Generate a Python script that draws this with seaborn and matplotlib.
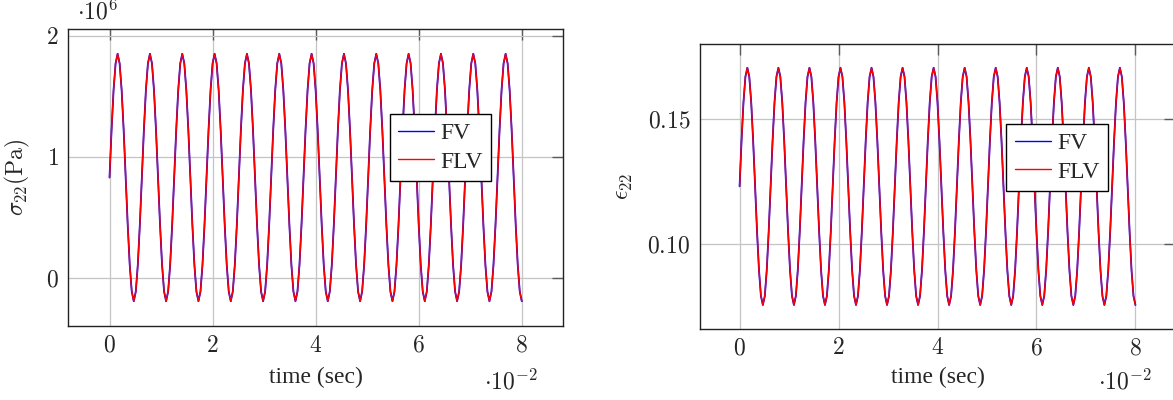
import numpy as np
import matplotlib
matplotlib.use("Agg")
import matplotlib.pyplot as plt
import seaborn as sns
from matplotlib.ticker import FixedLocator, FuncFormatter

# Sampling instants of the solver output (s)
time_sec = np.linspace(0.0, 0.08, 205)

# Normal stress sigma_22, in units of 1e6 Pa
sigma22_fv = [
    0.83, 1.22, 1.55, 1.77, 1.85, 1.77, 1.55, 1.22, 0.83, 0.44, 0.11, -0.11, -0.19, -0.11, 0.11, 0.44,
    0.83, 1.22, 1.55, 1.77, 1.85, 1.77, 1.55, 1.22, 0.83, 0.44, 0.11, -0.11, -0.19, -0.11, 0.11, 0.44,
    0.83, 1.22, 1.55, 1.77, 1.85, 1.77, 1.55, 1.22, 0.83, 0.44, 0.11, -0.11, -0.19, -0.11, 0.11, 0.44,
    0.83, 1.22, 1.55, 1.77, 1.85, 1.77, 1.55, 1.22, 0.83, 0.44, 0.11, -0.11, -0.19, -0.11, 0.11, 0.44,
    0.83, 1.22, 1.55, 1.77, 1.85, 1.77, 1.55, 1.22, 0.83, 0.44, 0.11, -0.11, -0.19, -0.11, 0.11, 0.44,
    0.83, 1.22, 1.55, 1.77, 1.85, 1.77, 1.55, 1.22, 0.83, 0.44, 0.11, -0.11, -0.19, -0.11, 0.11, 0.44,
    0.83, 1.22, 1.55, 1.77, 1.85, 1.77, 1.55, 1.22, 0.83, 0.44, 0.11, -0.11, -0.19, -0.11, 0.11, 0.44,
    0.83, 1.22, 1.55, 1.77, 1.85, 1.77, 1.55, 1.22, 0.83, 0.44, 0.11, -0.11, -0.19, -0.11, 0.11, 0.44,
    0.83, 1.22, 1.55, 1.77, 1.85, 1.77, 1.55, 1.22, 0.83, 0.44, 0.11, -0.11, -0.19, -0.11, 0.11, 0.44,
    0.83, 1.22, 1.55, 1.77, 1.85, 1.77, 1.55, 1.22, 0.83, 0.44, 0.11, -0.11, -0.19, -0.11, 0.11, 0.44,
    0.83, 1.22, 1.55, 1.77, 1.85, 1.77, 1.55, 1.22, 0.83, 0.44, 0.11, -0.11, -0.19, -0.11, 0.11, 0.44,
    0.83, 1.22, 1.55, 1.77, 1.85, 1.77, 1.55, 1.22, 0.83, 0.44, 0.11, -0.11, -0.19, -0.11, 0.11, 0.44,
    0.83, 1.22, 1.55, 1.77, 1.85, 1.77, 1.55, 1.22, 0.83, 0.44, 0.11, -0.11, -0.19,
]
sigma22_flv = [
    0.83, 1.22, 1.55, 1.77, 1.85, 1.77, 1.55, 1.22, 0.83, 0.44, 0.11, -0.11, -0.19, -0.11, 0.11, 0.44,
    0.83, 1.22, 1.55, 1.77, 1.85, 1.77, 1.55, 1.22, 0.83, 0.44, 0.11, -0.11, -0.19, -0.11, 0.11, 0.44,
    0.83, 1.22, 1.55, 1.77, 1.85, 1.77, 1.55, 1.22, 0.83, 0.44, 0.11, -0.11, -0.19, -0.11, 0.11, 0.44,
    0.83, 1.22, 1.55, 1.77, 1.85, 1.77, 1.55, 1.22, 0.83, 0.44, 0.11, -0.11, -0.19, -0.11, 0.11, 0.44,
    0.83, 1.22, 1.55, 1.77, 1.85, 1.77, 1.55, 1.22, 0.83, 0.44, 0.11, -0.11, -0.19, -0.11, 0.11, 0.44,
    0.83, 1.22, 1.55, 1.77, 1.85, 1.77, 1.55, 1.22, 0.83, 0.44, 0.11, -0.11, -0.19, -0.11, 0.11, 0.44,
    0.83, 1.22, 1.55, 1.77, 1.85, 1.77, 1.55, 1.22, 0.83, 0.44, 0.11, -0.11, -0.19, -0.11, 0.11, 0.44,
    0.83, 1.22, 1.55, 1.77, 1.85, 1.77, 1.55, 1.22, 0.83, 0.44, 0.11, -0.11, -0.19, -0.11, 0.11, 0.44,
    0.83, 1.22, 1.55, 1.77, 1.85, 1.77, 1.55, 1.22, 0.83, 0.44, 0.11, -0.11, -0.19, -0.11, 0.11, 0.44,
    0.83, 1.22, 1.55, 1.77, 1.85, 1.77, 1.55, 1.22, 0.83, 0.44, 0.11, -0.11, -0.19, -0.11, 0.11, 0.44,
    0.83, 1.22, 1.55, 1.77, 1.85, 1.77, 1.55, 1.22, 0.83, 0.44, 0.11, -0.11, -0.19, -0.11, 0.11, 0.44,
    0.83, 1.22, 1.55, 1.77, 1.85, 1.77, 1.55, 1.22, 0.83, 0.44, 0.11, -0.11, -0.19, -0.11, 0.11, 0.44,
    0.83, 1.22, 1.55, 1.77, 1.85, 1.77, 1.55, 1.22, 0.83, 0.44, 0.11, -0.11, -0.19,
]

# Normal strain epsilon_22 (dimensionless)
eps22_fv = [
    0.1232, 0.1413, 0.1567, 0.1670, 0.1706, 0.1670, 0.1567, 0.1413, 0.1232, 0.1051, 0.0897, 0.0794, 0.0758, 0.0794, 0.0897, 0.1051,
    0.1232, 0.1413, 0.1567, 0.1670, 0.1706, 0.1670, 0.1567, 0.1413, 0.1232, 0.1051, 0.0897, 0.0794, 0.0758, 0.0794, 0.0897, 0.1051,
    0.1232, 0.1413, 0.1567, 0.1670, 0.1706, 0.1670, 0.1567, 0.1413, 0.1232, 0.1051, 0.0897, 0.0794, 0.0758, 0.0794, 0.0897, 0.1051,
    0.1232, 0.1413, 0.1567, 0.1670, 0.1706, 0.1670, 0.1567, 0.1413, 0.1232, 0.1051, 0.0897, 0.0794, 0.0758, 0.0794, 0.0897, 0.1051,
    0.1232, 0.1413, 0.1567, 0.1670, 0.1706, 0.1670, 0.1567, 0.1413, 0.1232, 0.1051, 0.0897, 0.0794, 0.0758, 0.0794, 0.0897, 0.1051,
    0.1232, 0.1413, 0.1567, 0.1670, 0.1706, 0.1670, 0.1567, 0.1413, 0.1232, 0.1051, 0.0897, 0.0794, 0.0758, 0.0794, 0.0897, 0.1051,
    0.1232, 0.1413, 0.1567, 0.1670, 0.1706, 0.1670, 0.1567, 0.1413, 0.1232, 0.1051, 0.0897, 0.0794, 0.0758, 0.0794, 0.0897, 0.1051,
    0.1232, 0.1413, 0.1567, 0.1670, 0.1706, 0.1670, 0.1567, 0.1413, 0.1232, 0.1051, 0.0897, 0.0794, 0.0758, 0.0794, 0.0897, 0.1051,
    0.1232, 0.1413, 0.1567, 0.1670, 0.1706, 0.1670, 0.1567, 0.1413, 0.1232, 0.1051, 0.0897, 0.0794, 0.0758, 0.0794, 0.0897, 0.1051,
    0.1232, 0.1413, 0.1567, 0.1670, 0.1706, 0.1670, 0.1567, 0.1413, 0.1232, 0.1051, 0.0897, 0.0794, 0.0758, 0.0794, 0.0897, 0.1051,
    0.1232, 0.1413, 0.1567, 0.1670, 0.1706, 0.1670, 0.1567, 0.1413, 0.1232, 0.1051, 0.0897, 0.0794, 0.0758, 0.0794, 0.0897, 0.1051,
    0.1232, 0.1413, 0.1567, 0.1670, 0.1706, 0.1670, 0.1567, 0.1413, 0.1232, 0.1051, 0.0897, 0.0794, 0.0758, 0.0794, 0.0897, 0.1051,
    0.1232, 0.1413, 0.1567, 0.1670, 0.1706, 0.1670, 0.1567, 0.1413, 0.1232, 0.1051, 0.0897, 0.0794, 0.0758,
]
eps22_flv = [
    0.1232, 0.1413, 0.1567, 0.1670, 0.1706, 0.1670, 0.1567, 0.1413, 0.1232, 0.1051, 0.0897, 0.0794, 0.0758, 0.0794, 0.0897, 0.1051,
    0.1232, 0.1413, 0.1567, 0.1670, 0.1706, 0.1670, 0.1567, 0.1413, 0.1232, 0.1051, 0.0897, 0.0794, 0.0758, 0.0794, 0.0897, 0.1051,
    0.1232, 0.1413, 0.1567, 0.1670, 0.1706, 0.1670, 0.1567, 0.1413, 0.1232, 0.1051, 0.0897, 0.0794, 0.0758, 0.0794, 0.0897, 0.1051,
    0.1232, 0.1413, 0.1567, 0.1670, 0.1706, 0.1670, 0.1567, 0.1413, 0.1232, 0.1051, 0.0897, 0.0794, 0.0758, 0.0794, 0.0897, 0.1051,
    0.1232, 0.1413, 0.1567, 0.1670, 0.1706, 0.1670, 0.1567, 0.1413, 0.1232, 0.1051, 0.0897, 0.0794, 0.0758, 0.0794, 0.0897, 0.1051,
    0.1232, 0.1413, 0.1567, 0.1670, 0.1706, 0.1670, 0.1567, 0.1413, 0.1232, 0.1051, 0.0897, 0.0794, 0.0758, 0.0794, 0.0897, 0.1051,
    0.1232, 0.1413, 0.1567, 0.1670, 0.1706, 0.1670, 0.1567, 0.1413, 0.1232, 0.1051, 0.0897, 0.0794, 0.0758, 0.0794, 0.0897, 0.1051,
    0.1232, 0.1413, 0.1567, 0.1670, 0.1706, 0.1670, 0.1567, 0.1413, 0.1232, 0.1051, 0.0897, 0.0794, 0.0758, 0.0794, 0.0897, 0.1051,
    0.1232, 0.1413, 0.1567, 0.1670, 0.1706, 0.1670, 0.1567, 0.1413, 0.1232, 0.1051, 0.0897, 0.0794, 0.0758, 0.0794, 0.0897, 0.1051,
    0.1232, 0.1413, 0.1567, 0.1670, 0.1706, 0.1670, 0.1567, 0.1413, 0.1232, 0.1051, 0.0897, 0.0794, 0.0758, 0.0794, 0.0897, 0.1051,
    0.1232, 0.1413, 0.1567, 0.1670, 0.1706, 0.1670, 0.1567, 0.1413, 0.1232, 0.1051, 0.0897, 0.0794, 0.0758, 0.0794, 0.0897, 0.1051,
    0.1232, 0.1413, 0.1567, 0.1670, 0.1706, 0.1670, 0.1567, 0.1413, 0.1232, 0.1051, 0.0897, 0.0794, 0.0758, 0.0794, 0.0897, 0.1051,
    0.1232, 0.1413, 0.1567, 0.1670, 0.1706, 0.1670, 0.1567, 0.1413, 0.1232, 0.1051, 0.0897, 0.0794, 0.0758,
]

series_labels = ["FV", "FLV"]
series_colors = ["#0000ff", "#ff0000"]
x_ticks = [0.0, 0.02, 0.04, 0.06, 0.08]
sigma_ticks = [0.0, 1.0, 2.0]
eps_ticks = [0.10, 0.15]

sns.set_style("white")
plt.rcParams.update({
    "font.family": ["Liberation Serif", "DejaVu Serif"],
    "mathtext.fontset": "cm",
    "font.size": 17,
    "axes.linewidth": 1.0,
})

W, H = 1173, 400
fig = plt.figure(figsize=(W / 100, H / 100), dpi=100)
ax1 = fig.add_axes([68.3 / W, 1 - 326 / H, (563 - 68.3) / W, (326 - 29) / H])
ax2 = fig.add_axes([700 / W, 1 - 328.7 / H, (1175 - 700) / W, (328.7 - 44) / H])


def draw_panel(ax, fv, flv, yticks, yfmt):
    for vals, lab, col, lw in zip((fv, flv), series_labels, series_colors, (1.3, 1.0)):
        sns.lineplot(x=time_sec, y=vals, ax=ax, color=col, linewidth=lw,
                     label=lab, estimator=None, sort=False)
    # 10 % enlargement of the data range on each side
    allv = np.concatenate([fv, flv])
    lo, hi = allv.min(), allv.max()
    pad = 0.1 * (hi - lo)
    ax.set_ylim(lo - pad, hi + pad)
    tpad = 0.1 * (time_sec[-1] - time_sec[0])
    ax.set_xlim(time_sec[0] - tpad, time_sec[-1] + tpad)

    ax.xaxis.set_major_locator(FixedLocator(x_ticks))
    ax.xaxis.set_major_formatter(FuncFormatter(lambda v, p: f"${v * 100:.0f}$"))
    ax.yaxis.set_major_locator(FixedLocator(yticks))
    ax.yaxis.set_major_formatter(FuncFormatter(yfmt))
    ax.grid(True, color="#c4c4c4", linewidth=0.9)
    ax.set_axisbelow(True)
    ax.tick_params(direction="in", length=8, width=1.0, color="#5a5a5a",
                   top=True, right=True, pad=7, labelsize=17)
    for sp in ax.spines.values():
        sp.set_color("#222222")
        sp.set_linewidth(1.0)

    leg = ax.legend(loc="center", bbox_to_anchor=(0.752, 0.601), frameon=True,
                    fancybox=False, edgecolor="black", framealpha=1, fontsize=17,
                    handlelength=1.55, handletextpad=0.25, labelspacing=0.3,
                    borderpad=0.35, borderaxespad=0)
    leg.get_frame().set_linewidth(1.0)
    for line in leg.get_lines():
        line.set_linewidth(1.0)

    ax.set_xlabel("time (sec)", fontsize=17)


draw_panel(ax1, np.array(sigma22_fv), np.array(sigma22_flv), sigma_ticks,
           lambda v, p: f"${v:.0f}$")
draw_panel(ax2, np.array(eps22_fv), np.array(eps22_flv), eps_ticks,
           lambda v, p: f"${v:.2f}$")

ax1.set_ylabel(r"$\sigma_{22}(\mathrm{Pa})$", fontsize=17)
ax2.set_ylabel(r"$\epsilon_{22}$", fontsize=17)
ax1.yaxis.set_label_coords(-0.073, 0.5)
ax2.yaxis.set_label_coords(-0.137, 0.5)
ax1.xaxis.set_label_coords(0.5, -0.138)
ax2.xaxis.set_label_coords(0.5, -0.1345)

# Scale factors for the axes
fig.text(77 / W, 1 - 19 / H, r"$\cdot 10^{6}$", ha="left", va="baseline", fontsize=17)
fig.text(537.7 / W, 1 - 389 / H, r"$\cdot 10^{-2}$", ha="right", va="baseline", fontsize=17)
fig.text(1151.7 / W, 1 - 389 / H, r"$\cdot 10^{-2}$", ha="right", va="baseline", fontsize=17)

fig.savefig("out.png", dpi=100)
